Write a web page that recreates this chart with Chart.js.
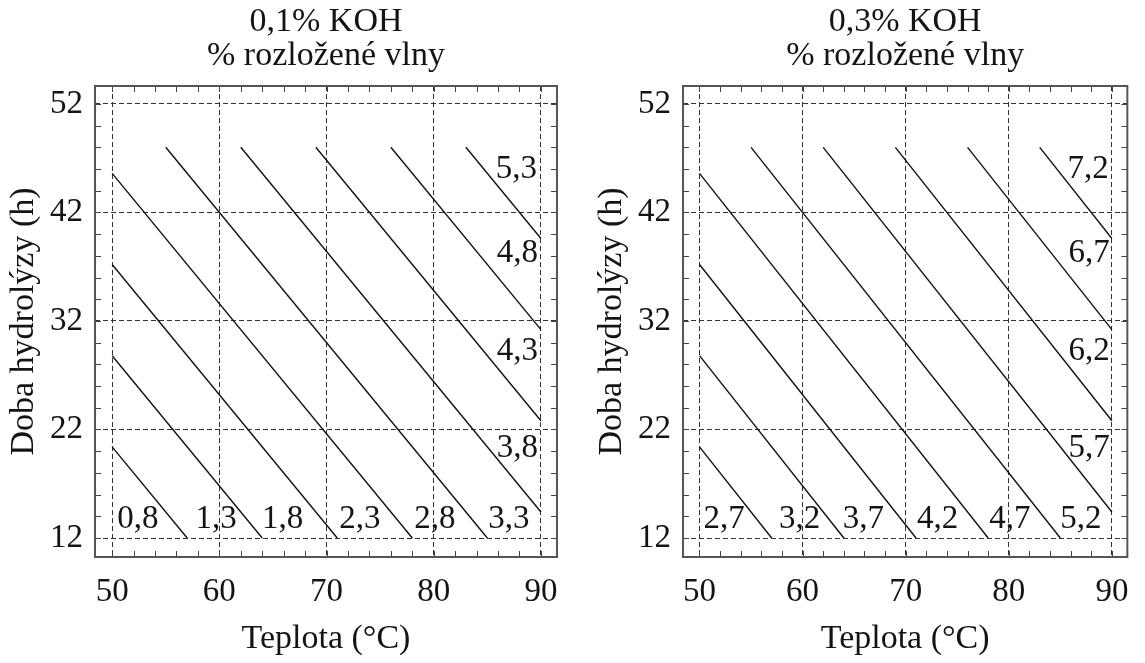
<!DOCTYPE html>
<html>
<head>
<meta charset="utf-8">
<title>Rozložené vlny – KOH</title>
<script src="https://cdn.jsdelivr.net/npm/chart.js@4.4.0/dist/chart.umd.min.js"></script>
<style>
  html, body { margin: 0; padding: 0; background: #fff; }
  #wrap { position: relative; width: 1145px; height: 663px; overflow: hidden; }
  .panel { position: absolute; top: 0; }
  #left { left: 0; }
  #right { left: 588px; }
</style>
</head>
<body>
<div id="wrap">
  <div class="panel" id="left"><canvas id="c1" width="575" height="663"></canvas></div>
  <div class="panel" id="right"><canvas id="c2" width="557" height="663"></canvas></div>
</div>
<script>
// axis ticks (labelled) and minor tick marks
const xTicks = [50, 60, 70, 80, 90];
const yTicks = [12, 22, 32, 42, 52];
const xMinor = [50, 52, 54, 56, 58, 60, 62, 64, 66, 68, 70, 72, 74, 76, 78, 80, 82, 84, 86, 88, 90];
const yMinor = [12, 14, 16, 18, 20, 22, 24, 26, 28, 30, 32, 34, 36, 38, 40, 42, 44, 46, 48, 50, 52];

// contour lines, same in both panels: start point -> end point
const lineX1 = [50, 50, 50, 50, 55, 62, 69, 76, 83];
const lineY1 = [20.4, 28.8, 37.2, 45.6, 48, 48, 48, 48, 48];
const lineX2 = [57, 64, 71, 78, 85, 90, 90, 90, 90];
const lineY2 = [12, 12, 12, 12, 12, 14.4, 22.8, 31.2, 39.6];

// region labels (% rozložené vlny)
const labelX = [52.4, 59.7, 65.9, 73.1, 80.1, 87.0, 87.8, 87.8, 87.8, 87.7];
const labelY = [13.7, 13.7, 13.7, 13.7, 13.7, 13.7, 20.3, 29.2, 38.2, 46.0];
const labels01 = ['0,8', '1,3', '1,8', '2,3', '2,8', '3,3', '3,8', '4,3', '4,8', '5,3'];
const labels03 = ['2,7', '3,2', '3,7', '4,2', '4,7', '5,2', '5,7', '6,2', '6,7', '7,2'];

const FONT = 'Liberation Serif';
const INK = '#141414';

// frame, inward ticks and region labels
const panelDecor = {
  id: 'panelDecor',
  afterDraw(chart, args, opts) {
    const { ctx, chartArea: a } = chart;
    const xs = chart.scales.x, ys = chart.scales.y;
    ctx.save();

    // ticks pointing inward on all four sides
    ctx.strokeStyle = '#444';
    ctx.lineWidth = 1;
    ctx.beginPath();
    xMinor.forEach(v => {
      const px = Math.round(xs.getPixelForValue(v)) + 0.5;
      ctx.moveTo(px, a.top); ctx.lineTo(px, a.top + 6);
      ctx.moveTo(px, a.bottom); ctx.lineTo(px, a.bottom - 6);
    });
    yMinor.forEach(v => {
      const py = Math.round(ys.getPixelForValue(v)) + 0.5;
      ctx.moveTo(a.left, py); ctx.lineTo(a.left + 6, py);
      ctx.moveTo(a.right, py); ctx.lineTo(a.right - 6, py);
    });
    ctx.stroke();

    // frame
    ctx.strokeStyle = '#555';
    ctx.lineWidth = 2;
    ctx.strokeRect(a.left, a.top, a.right - a.left, a.bottom - a.top);

    // labels
    ctx.fillStyle = INK;
    ctx.font = '33px "' + FONT + '"';
    ctx.textAlign = 'center';
    ctx.textBaseline = 'middle';
    opts.texts.forEach((t, i) => {
      ctx.fillText(t, xs.getPixelForValue(labelX[i]), ys.getPixelForValue(labelY[i]));
    });
    ctx.restore();
  }
};

function makePanel(canvasId, titleText, texts, rightPad) {
  const datasets = lineX1.map((x, i) => ({
    data: [{ x: lineX1[i], y: lineY1[i] }, { x: lineX2[i], y: lineY2[i] }],
    showLine: true,
    borderColor: '#111',
    borderWidth: 1.4,
    pointRadius: 0,
    fill: false
  }));

  return new Chart(document.getElementById(canvasId), {
    type: 'scatter',
    data: { datasets },
    options: {
      responsive: false,
      animation: false,
      layout: { padding: { left: 0, right: rightPad, top: 0, bottom: 0 } },
      plugins: {
        legend: { display: false },
        tooltip: { enabled: false },
        title: {
          display: true,
          text: [titleText, '% rozložené vlny'],
          fullSize: false,
          color: INK,
          font: { family: FONT, size: 34, weight: 'normal', lineHeight: 34 / 34 },
          padding: { top: 5, bottom: 13 }
        },
        panelDecor: { texts }
      },
      scales: {
        x: {
          type: 'linear',
          min: 48.4,
          max: 91.5,
          afterBuildTicks: s => { s.ticks = xTicks.map(v => ({ value: v })); },
          afterFit: s => { s.height = 106; },
          ticks: {
            color: INK,
            padding: 16,
            font: { family: FONT, size: 33 }
          },
          grid: { color: '#333', lineWidth: 1, drawTicks: false },
          border: { display: false, dash: [5, 3] },
          title: {
            display: true,
            text: 'Teplota (°C)',
            color: INK,
            font: { family: FONT, size: 34 },
            padding: { top: 0, bottom: 4 }
          }
        },
        y: {
          type: 'linear',
          min: 10.25,
          max: 53.65,
          afterBuildTicks: s => { s.ticks = yTicks.map(v => ({ value: v })); },
          afterFit: s => { s.width = 95; },
          ticks: {
            color: INK,
            padding: 12,
            font: { family: FONT, size: 33 }
          },
          grid: { color: '#333', lineWidth: 1, drawTicks: false },
          border: { display: false, dash: [5, 3] },
          title: {
            display: true,
            text: 'Doba hydrolýzy (h)',
            color: INK,
            font: { family: FONT, size: 34 },
            padding: { top: 4, bottom: 0 }
          }
        }
      }
    },
    plugins: [panelDecor]
  });
}

makePanel('c1', '0,1% KOH', labels01, 18);
makePanel('c2', '0,3% KOH', labels03, 3);
</script>
</body>
</html>
